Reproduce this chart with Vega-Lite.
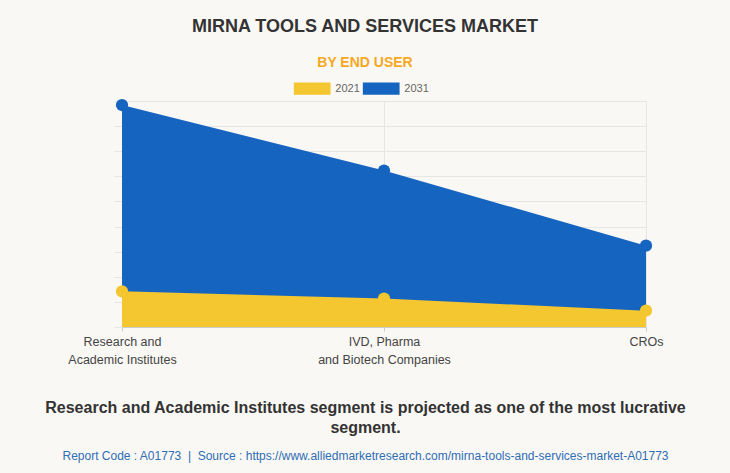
{
  "$schema": "https://vega.github.io/schema/vega-lite/v6.json",
  "width": 524,
  "height": 226,
  "autosize": {"type": "none"},
  "padding": {"left": 122, "top": 101, "right": 84, "bottom": 146},
  "background": "#f9f8f4",
  "config": {
    "font": "Liberation Sans",
    "view": {"stroke": null}
  },
  "title": {
    "text": "MIRNA TOOLS AND SERVICES MARKET",
    "subtitle": "BY END USER",
    "anchor": "middle",
    "dx": -19,
    "offset": 12.5,
    "font": "Liberation Sans",
    "fontSize": 18,
    "fontWeight": "bold",
    "color": "#333333",
    "subtitleFont": "Liberation Sans",
    "subtitleFontSize": 14,
    "subtitleFontWeight": "bold",
    "subtitleColor": "#F7A823",
    "subtitlePadding": 20
  },
  "data": {
    "values": [
      {"segment": "Research and Academic Institutes", "year": "2021", "value": 1.42},
      {"segment": "IVD, Pharma and Biotech Companies", "year": "2021", "value": 1.13},
      {"segment": "CROs", "year": "2021", "value": 0.65},
      {"segment": "Research and Academic Institutes", "year": "2031", "value": 8.84},
      {"segment": "IVD, Pharma and Biotech Companies", "year": "2031", "value": 6.23},
      {"segment": "CROs", "year": "2031", "value": 3.24}
    ]
  },
  "encoding": {
    "y": {
      "field": "value",
      "type": "quantitative",
      "scale": {"domain": [0, 9], "nice": false, "zero": true},
      "axis": {
        "title": null,
        "labels": false,
        "domain": false,
        "ticks": true,
        "tickSize": 8,
        "tickColor": "#e6e6e6",
        "tickCount": 9,
        "grid": true,
        "gridColor": "#e6e6e6"
      }
    },
    "color": {
      "field": "year",
      "type": "nominal",
      "scale": {"domain": ["2021", "2031"], "range": ["#F4C62F", "#1565C0"]},
      "legend": {
        "title": null,
        "orient": "none",
        "direction": "horizontal",
        "legendX": 183.7,
        "legendY": -19,
        "symbolType": "M-3,-1H3V1H-3Z",
        "symbolSize": 150,
        "symbolStrokeWidth": 0,
        "symbolOpacity": 1,
        "labelFont": "Liberation Sans",
        "labelFontSize": 11,
        "labelColor": "#666666",
        "labelOffset": 16.6,
        "columnPadding": 2,
        "encode": {
          "symbols": {"update": {"size": {"value": 150}, "strokeWidth": {"value": 0}}}
        }
      }
    }
  },
  "layer": [
    {
      "encoding": {
        "x": {
          "field": "segment",
          "type": "nominal",
          "sort": null,
          "scale": {"type": "point", "padding": 0, "domain": ["Research and Academic Institutes", "IVD, Pharma and Biotech Companies", "CROs"]},
          "axis": {
            "orient": "bottom",
            "labelAngle": 0,
            "labelExpr": "datum.value == 'Research and Academic Institutes' ? ['Research and', 'Academic Institutes'] : datum.value == 'IVD, Pharma and Biotech Companies' ? ['IVD, Pharma', 'and Biotech Companies'] : datum.value",
            "labelFont": "Liberation Sans",
            "labelFontSize": 12.5,
            "labelColor": "#444444",
            "labelLineHeight": 18.5,
            "labelPadding": 4,
            "labelBound": false,
            "labelOverlap": false,
            "labelAlign": "center",
            "domain": true,
            "domainColor": "#cccccc",
            "ticks": true,
            "tickSize": 4,
            "tickColor": "#cccccc",
            "grid": true,
            "gridColor": "#e6e6e6",
            "title": ["Research and Academic Institutes segment is projected as one of the most lucrative", "segment."],
            "titleFont": "Liberation Sans",
            "titleFontSize": 16,
            "titleFontWeight": "bold",
            "titleColor": "#333333",
            "titleLineHeight": 20,
            "titleAlign": "center",
            "titleBaseline": "alphabetic",
            "titleX": 243,
            "titleY": 85.3
          }
        }
      },
      "layer": [
        {"transform": [{"filter": "datum.year == '2031'"}], "mark": {"type": "area", "opacity": 1}},
        {"transform": [{"filter": "datum.year == '2021'"}], "mark": {"type": "area", "opacity": 1}},
        {"transform": [{"filter": "datum.year == '2031'"}], "mark": {"type": "point", "shape": "circle", "filled": true, "size": 150, "opacity": 1}}
      ]
    },
    {
      "transform": [{"filter": "datum.year == '2021'"}],
      "mark": {"type": "point", "shape": "circle", "filled": true, "size": 150, "opacity": 1},
      "encoding": {
        "x": {
          "field": "segment",
          "type": "nominal",
          "sort": null,
          "scale": {"type": "point", "padding": 0, "domain": ["Research and Academic Institutes", "IVD, Pharma and Biotech Companies", "CROs"]},
          "axis": {
            "orient": "bottom",
            "labels": false,
            "domain": false,
            "ticks": false,
            "grid": false,
            "title": "Report Code : A01773 \u00a0|\u00a0 Source : https://www.alliedmarketresearch.com/mirna-tools-and-services-market-A01773",
            "titleFont": "Liberation Sans",
            "titleFontSize": 12,
            "titleFontWeight": "normal",
            "titleColor": "#2F6DB5",
            "titleAlign": "center",
            "titleBaseline": "alphabetic",
            "titleX": 243,
            "titleY": 132
          }
        }
      }
    }
  ],
  "resolve": {"axis": {"x": "independent"}}
}
